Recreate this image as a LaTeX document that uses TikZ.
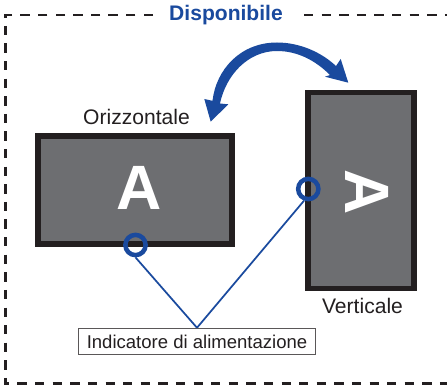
\documentclass[tikz,border=0pt]{standalone}
\usepackage{fontspec}
\setmainfont{Liberation Sans}
\definecolor{myblue}{HTML}{1A4A9E}
\definecolor{scr}{HTML}{6D6E71}
\definecolor{ink}{HTML}{231F20}
\tikzset{
  screen/.style={draw=ink,fill=scr,line width=4.1pt,inner sep=0pt},
  led/.style={circle,draw=myblue,line width=3.4pt,inner sep=0pt,minimum size=15.2pt},
  lbl/.style={text=ink,font=\fontsize{15.8pt}{18pt}\selectfont,inner sep=0pt},
  bigA/.style={text=white,font=\fontsize{47pt}{50pt}\selectfont\bfseries,inner sep=0pt},
  frame/.style={draw=ink,line width=1.9pt,dash pattern=on 7pt off 6.2pt},
  wire/.style={draw=myblue,line width=1.3pt}
}
\begin{document}
\begin{tikzpicture}[x=0.75pt,y=-0.75pt]
\useasboundingbox (0,0) rectangle (447,385);
\fill[white] (0,0) rectangle (447,385);
% dashed frame
\coordinate (tl) at (153,15);
\coordinate (tc) at (5.5,15);
\coordinate (bc) at (5.5,383.5);
\coordinate (br) at (447,383.5);
\coordinate (tr) at (447,15);
\coordinate (tm) at (304,15);
\draw[frame] (tl) -- (tc) -- (bc) -- (br);
\draw[frame] (tm) -- (tr);
\node[text=myblue,font=\fontsize{15.8pt}{18pt}\selectfont\bfseries,inner sep=0pt] (title) at (226,15.5) {Disponibile};
% screens
\node[screen,minimum width=145.5pt,minimum height=81pt] (hs) at (135.2,190.2) {};
\node[screen,minimum width=79.8pt,minimum height=146.6pt] (vs) at (361,190.5) {};
\node[bigA] (ha) at (139.5,187.5) {A};
\node[bigA,rotate=-90] (va) at (367.5,192.5) {A};
\node[lbl] (ho) at (136.5,117) {Orizzontale};
\node[lbl] (ve) at (362.5,306) {Verticale};
% indicator label
\node[draw=ink!75,fill=white,line width=0.6pt,minimum width=178pt,minimum height=20pt,inner sep=0pt,text=ink,font=\fontsize{13.9pt}{16pt}\selectfont] (ind) at (197,341.5) {Indicatore di alimentazione};
% leds
\node[led] (l1) at (135.5,245) {};
\node[led] (l2) at (308.3,189) {};
\draw[wire] (l1.south) -- (ind.north);
\draw[wire] (l2.250) -- (ind.north);
% double arrow
\fill[myblue] (210.7,121.7) -- (204.3,99) -- (212.5,100.8)
  .. controls (216,70) and (240,42.5) .. (277,42.5)
  .. controls (298,42.5) and (320,51) .. (336,66)
  -- (340.7,59) -- (348.3,82.7) -- (325,76.7) -- (330,75)
  .. controls (315,60) and (297,51) .. (277,51)
  .. controls (248,51) and (226,75) .. (220,103.5)
  -- (228.3,104.3) -- cycle;
\end{tikzpicture}
\end{document}
